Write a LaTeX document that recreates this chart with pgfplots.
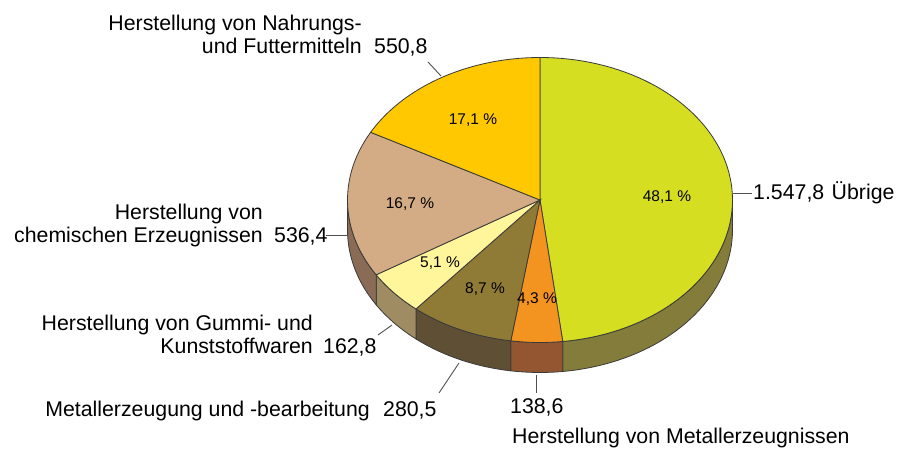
\documentclass[border=0pt]{standalone}
\usepackage{pgfplots}
\pgfplotsset{compat=1.18}
\usepgfplotslibrary{fillbetween}
\usepackage{fontspec}
\setmainfont{Liberation Sans}
\definecolor{txt}{HTML}{3C3C3C}
\definecolor{edge}{HTML}{3A3A3A}
\definecolor{lead}{HTML}{505050}
\definecolor{topU}{HTML}{D5DE20}
\definecolor{sideU}{HTML}{837C3B}
\definecolor{topO}{HTML}{F39420}
\definecolor{sideO}{HTML}{935631}
\definecolor{topM}{HTML}{8F7B36}
\definecolor{sideM}{HTML}{5F5035}
\definecolor{topG}{HTML}{FFF59A}
\definecolor{sideG}{HTML}{9F8C62}
\definecolor{topC}{HTML}{D3AB84}
\definecolor{sideC}{HTML}{8A6B55}
\definecolor{topN}{HTML}{FFC800}
% data (values)
\def\vU{1547.8}% Übrige
\def\vO{138.6}% Herstellung von Metallerzeugnissen
\def\vM{280.5}% Metallerzeugung und -bearbeitung
\def\vG{162.8}% Gummi- und Kunststoffwaren
\def\vC{536.4}% chemische Erzeugnisse
\def\vN{550.8}% Nahrungs- und Futtermittel
\pgfmathsetmacro{\tot}{\vU+\vO+\vM+\vG+\vC+\vN}
\pgfmathsetmacro{\aU}{90-360*(\vU/\tot)}
\pgfmathsetmacro{\aO}{\aU-360*(\vO/\tot)}
\pgfmathsetmacro{\aM}{\aO-360*(\vM/\tot)}
\pgfmathsetmacro{\aG}{\aM-360*(\vG/\tot)}
\pgfmathsetmacro{\aC}{\aG-360*(\vC/\tot)}
\pgfmathsetmacro{\aN}{\aC-360*(\vN/\tot)}
\newcommand{\bigf}{\fontsize{21.3}{23}\selectfont}
\newcommand{\smallf}{\fontsize{15.5}{18}\selectfont}
\begin{document}
\begin{tikzpicture}
\begin{axis}[x=1pt,y=1pt,xmin=0,xmax=897,ymin=0,ymax=449,hide axis,clip=false,
  every node/.style={text=txt}]
\path (axis cs:0,0) rectangle (axis cs:897,449);
% ---- sides ----
\addplot[draw=none,name path=Ut,domain=\aU:0,samples=40] ({540+192.5*cos(x)},{249+142.5*sin(x)});
\addplot[draw=none,name path=Ub,domain=\aU:0,samples=40] ({540+192.5*cos(x)},{219+142.5*sin(x)});
\addplot[fill=sideU,draw=edge,line width=0.8pt] fill between[of=Ut and Ub];
\addplot[draw=none,name path=Ot,domain=\aO:\aU,samples=10] ({540+192.5*cos(x)},{249+142.5*sin(x)});
\addplot[draw=none,name path=Ob,domain=\aO:\aU,samples=10] ({540+192.5*cos(x)},{219+142.5*sin(x)});
\addplot[fill=sideO,draw=edge,line width=0.8pt] fill between[of=Ot and Ob];
\addplot[draw=none,name path=Mt,domain=\aM:\aO,samples=20] ({540+192.5*cos(x)},{249+142.5*sin(x)});
\addplot[draw=none,name path=Mb,domain=\aM:\aO,samples=20] ({540+192.5*cos(x)},{219+142.5*sin(x)});
\addplot[fill=sideM,draw=edge,line width=0.8pt] fill between[of=Mt and Mb];
\addplot[draw=none,name path=Gt,domain=\aG:\aM,samples=12] ({540+192.5*cos(x)},{249+142.5*sin(x)});
\addplot[draw=none,name path=Gb,domain=\aG:\aM,samples=12] ({540+192.5*cos(x)},{219+142.5*sin(x)});
\addplot[fill=sideG,draw=edge,line width=0.8pt] fill between[of=Gt and Gb];
\addplot[draw=none,name path=Ct,domain=-180:\aG,samples=20] ({540+192.5*cos(x)},{249+142.5*sin(x)});
\addplot[draw=none,name path=Cb,domain=-180:\aG,samples=20] ({540+192.5*cos(x)},{219+142.5*sin(x)});
\addplot[fill=sideC,draw=edge,line width=0.8pt] fill between[of=Ct and Cb];
% ---- top faces ----
\addplot[fill=topU,draw=edge,line width=0.8pt,domain=\aU:90,samples=80] ({540+192.5*cos(x)},{249+142.5*sin(x)}) -- (axis cs:540,249) -- cycle;
\addplot[fill=topO,draw=edge,line width=0.8pt,domain=\aO:\aU,samples=10] ({540+192.5*cos(x)},{249+142.5*sin(x)}) -- (axis cs:540,249) -- cycle;
\addplot[fill=topM,draw=edge,line width=0.8pt,domain=\aM:\aO,samples=20] ({540+192.5*cos(x)},{249+142.5*sin(x)}) -- (axis cs:540,249) -- cycle;
\addplot[fill=topG,draw=edge,line width=0.8pt,domain=\aG:\aM,samples=12] ({540+192.5*cos(x)},{249+142.5*sin(x)}) -- (axis cs:540,249) -- cycle;
\addplot[fill=topC,draw=edge,line width=0.8pt,domain=\aC:\aG,samples=30] ({540+192.5*cos(x)},{249+142.5*sin(x)}) -- (axis cs:540,249) -- cycle;
\addplot[fill=topN,draw=edge,line width=0.8pt,domain=\aN:\aC,samples=30] ({540+192.5*cos(x)},{249+142.5*sin(x)}) -- (axis cs:540,249) -- cycle;
% ---- percentage labels ----
\node[font=\smallf] at (axis cs:473,329) {17,1 \%};
\node[font=\smallf] at (axis cs:667,252) {48,1 \%};
\node[font=\smallf] at (axis cs:410,245) {16,7 \%};
\node[font=\smallf] at (axis cs:440,186) {5,1 \%};
\node[font=\smallf] at (axis cs:485,160) {8,7 \%};
\node[font=\smallf] at (axis cs:537,150) {4,3 \%};
% ---- leader lines ----
\addplot[lead,line width=0.9pt] coordinates {(428,387) (441,373)};
\addplot[lead,line width=0.9pt] coordinates {(326,214) (348,214)};
\addplot[lead,line width=0.9pt] coordinates {(378,114) (392,124)};
\addplot[lead,line width=0.9pt] coordinates {(439,56) (459,86)};
\addplot[lead,line width=0.9pt] coordinates {(536,74) (536,56)};
\addplot[lead,line width=0.9pt] coordinates {(733,256) (752,256)};
% ---- category labels ----
\node[font=\bigf,anchor=base east,inner sep=0pt] at (axis cs:362,418) {Herstellung von Nahrungs-};
\node[font=\bigf,anchor=base east,inner sep=0pt] at (axis cs:362,395) {und Futtermitteln};
\node[font=\bigf,anchor=base west,inner sep=0pt] at (axis cs:374,395) {550,8};
\node[font=\bigf,anchor=base east,inner sep=0pt] at (axis cs:263,229) {Herstellung von};
\node[font=\bigf,anchor=base east,inner sep=0pt] at (axis cs:263,206) {chemischen Erzeugnissen};
\node[font=\bigf,anchor=base west,inner sep=0pt] at (axis cs:274,206) {536,4};
\node[font=\bigf,anchor=base east,inner sep=0pt] at (axis cs:313,118) {Herstellung von Gummi- und};
\node[font=\bigf,anchor=base east,inner sep=0pt] at (axis cs:313,95) {Kunststoffwaren};
\node[font=\bigf,anchor=base west,inner sep=0pt] at (axis cs:323,95) {162,8};
\node[font=\bigf,anchor=base east,inner sep=0pt] at (axis cs:370,32) {Metallerzeugung und -bearbeitung};
\node[font=\bigf,anchor=base west,inner sep=0pt] at (axis cs:383,32) {280,5};
\node[font=\bigf,anchor=base west,inner sep=0pt] at (axis cs:510,35) {138,6};
\node[font=\bigf,anchor=base west,inner sep=0pt] at (axis cs:512,5) {Herstellung von Metallerzeugnissen};
\node[font=\bigf,anchor=base west,inner sep=0pt] at (axis cs:753,249) {1.547,8\hspace{0.35em}Übrige};
\end{axis}
\end{tikzpicture}
\end{document}
